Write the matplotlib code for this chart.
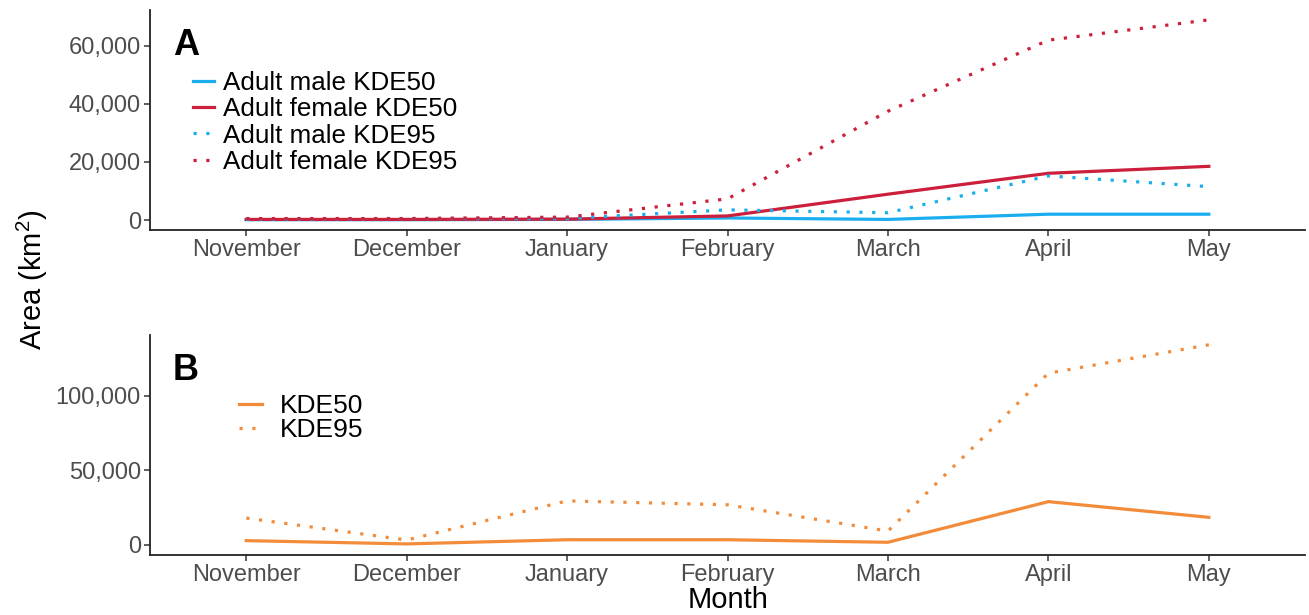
import matplotlib
matplotlib.use("Agg")
import matplotlib.pyplot as plt
from matplotlib.ticker import FuncFormatter, FixedLocator

plt.rcParams["font.family"] = ["Liberation Sans", "DejaVu Sans"]
plt.rcParams["mathtext.fontset"] = "custom"
plt.rcParams["mathtext.rm"] = "Liberation Sans"
plt.rcParams["mathtext.it"] = "Liberation Sans:italic"

months = ["November", "December", "January", "February", "March", "April", "May"]

# Panel A: home-range area by sex (km^2)
male_kde50 = [100, 100, 200, 700, 200, 2000, 2000]
female_kde50 = [200, 200, 300, 1400, 8900, 16100, 18500]
male_kde95 = [300, 500, 500, 3500, 2500, 15200, 11500]
female_kde95 = [500, 500, 1000, 7300, 37500, 62000, 69000]

# Panel B: all individuals (km^2)
all_kde50 = [2900, 700, 3500, 3500, 1800, 29000, 18500]
all_kde95 = [18000, 3300, 29500, 26900, 9300, 115000, 134000]

yticks_a = [0, 20000, 40000, 60000]
yticks_b = [0, 50000, 100000]

blue = "#1BAEEF"
red = "#CC1F3B"
orange = "#F28C3A"
tick_grey = "#4D4D4D"

fig = plt.figure(figsize=(13.09, 6.15), dpi=100)
ax_a = fig.add_axes([0.1146, 0.6260, 0.8824, 0.3580])
ax_b = fig.add_axes([0.1146, 0.0976, 0.8824, 0.3580])

x = list(range(1, len(months) + 1))
dot = (0, (1, 3))
lw = 2.3

ax_a.plot(x, male_kde50, color=blue, lw=lw, label="Adult male KDE50")
ax_a.plot(x, female_kde50, color=red, lw=lw, label="Adult female KDE50")
ax_a.plot(x, male_kde95, color=blue, lw=lw, ls=dot, label="Adult male KDE95")
ax_a.plot(x, female_kde95, color=red, lw=lw, ls=dot, label="Adult female KDE95")

ax_b.plot(x, all_kde50, color=orange, lw=lw, label="KDE50")
ax_b.plot(x, all_kde95, color=orange, lw=lw, ls=dot, label="KDE95")

fmt = FuncFormatter(lambda v, p: f"{int(v):,}")
for ax, yt, vals in ((ax_a, yticks_a, female_kde95), (ax_b, yticks_b, all_kde95)):
    top = max(vals)
    pad = 0.05 * top
    ax.set_ylim(-pad, top + pad)
    ax.set_xlim(0.4, len(months) + 0.6)
    ax.set_xticks(x)
    ax.set_xticklabels(months)
    ax.yaxis.set_major_locator(FixedLocator(yt))
    ax.yaxis.set_major_formatter(fmt)
    for side in ("top", "right"):
        ax.spines[side].set_visible(False)
    for side in ("left", "bottom"):
        ax.spines[side].set_linewidth(1.3)
        ax.spines[side].set_color("#222222")
    ax.tick_params(axis="both", labelsize=17, labelcolor=tick_grey,
                   color="#333333", length=4, width=1.1, pad=2.5)

ax_a.legend(loc="upper left", bbox_to_anchor=(0.0286, 0.77), frameon=False,
            fontsize=18.7, handlelength=0.8, handletextpad=0.35,
            labelspacing=0.09, borderaxespad=0)
ax_b.legend(loc="upper left", bbox_to_anchor=(0.068, 0.78), frameon=False,
            fontsize=19, handlelength=0.85, handletextpad=0.7,
            labelspacing=0.0, borderaxespad=0)

ax_a.text(0.020, 0.84, "A", transform=ax_a.transAxes, fontsize=26,
          fontweight="bold", va="center", ha="left")
ax_b.text(0.020, 0.84, "B", transform=ax_b.transAxes, fontsize=26,
          fontweight="bold", va="center", ha="left")

fig.text(0.025, 0.545, r"Area (km$^{2}$)", rotation=90, fontsize=21,
         ha="center", va="center")
fig.text(0.556, 0.024, "Month", fontsize=21, ha="center", va="center")

fig.savefig("out.png", dpi=100)
